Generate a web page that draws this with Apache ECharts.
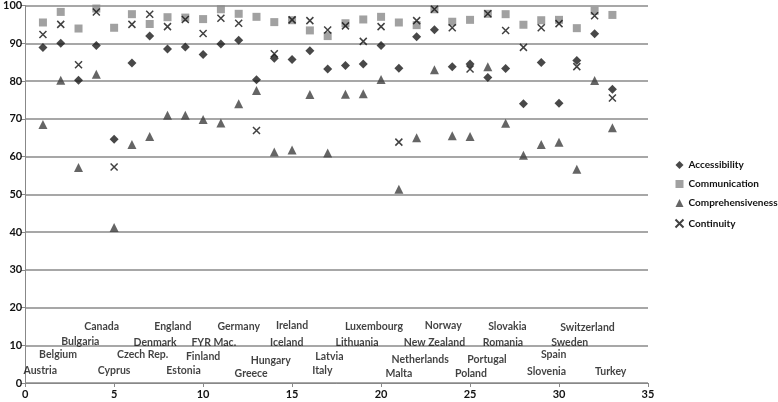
<!DOCTYPE html>
<html><head><meta charset="utf-8">
<script src="https://cdn.jsdelivr.net/npm/echarts@6/dist/echarts.min.js"></script>
<style>html,body{margin:0;padding:0;background:#fff}#c{width:778px;height:402px}</style>
</head><body><div id="c"></div>
<script>
const countries = ["Austria","Belgium","Bulgaria","Canada","Cyprus","Czech Rep.","Denmark","England","Estonia","Finland","FYR Mac.","Germany","Greece","Hungary","Iceland","Ireland","Italy","Latvia","Lithuania","Luxembourg","Malta","Netherlands","New Zealand","Norway","Poland","Portugal","Romania","Slovakia","Slovenia","Spain","Sweden","Switzerland","Turkey"];
const accessibility = [88.9,90.0,80.2,89.4,64.6,84.8,91.9,88.5,89.0,87.0,89.8,90.8,80.3,86.0,85.7,88.0,83.2,84.1,84.5,89.4,83.4,91.7,93.6,83.8,84.5,80.9,83.3,74.0,84.9,74.1,85.4,92.5,77.8];
const communication = [95.5,98.3,93.9,99.2,94.1,97.7,95.1,96.9,96.8,96.4,99.0,97.8,97.0,95.6,96.1,93.4,91.9,95.3,96.3,97.0,95.5,94.8,99.0,95.7,96.2,97.8,97.7,94.9,96.1,96.2,94.0,98.6,97.5];
const comprehensiveness = [68.5,80.2,57.1,81.8,41.2,63.2,65.3,70.9,70.9,69.8,68.9,74.0,77.5,61.2,61.7,76.4,60.9,76.5,76.6,80.4,51.3,65.0,83.0,65.5,65.3,83.8,68.8,60.3,63.2,63.8,56.6,80.1,67.6];
const continuity = [92.3,95.0,84.3,98.3,57.2,95.0,97.7,94.4,96.3,92.6,96.6,95.3,66.9,87.2,96.2,96.0,93.5,94.6,90.5,94.4,63.8,96.0,99.0,94.1,83.2,97.8,93.4,88.9,94.1,95.2,83.8,97.3,75.5];
// country label anchor positions (data units)
const labelX = [0.85,1.85,3.1,4.3,5.0,6.6,7.3,8.3,8.9,10.0,10.6,12.0,12.7,13.8,14.7,15.0,16.7,17.1,18.65,19.6,21.0,22.2,23.0,23.5,25.05,25.95,26.85,27.1,29.3,29.7,30.6,31.6,32.9];
const labelY = [3.4,7.6,11.0,15.0,3.4,7.4,10.8,15.0,3.4,6.9,10.8,15.0,2.6,5.8,10.6,15.3,3.4,6.9,10.8,15.0,2.6,6.3,10.6,15.3,2.6,6.1,10.6,15.0,2.9,7.4,10.8,14.8,2.9];
const xTicks = {min:0, max:35, interval:5};
const yTicks = {min:0, max:100, interval:10};

const xs = countries.map((_, i) => i + 1);
const pairs = arr => arr.map((v, i) => [xs[i], v]);
const FONT = 'Lato';
const FS = 10.5;
const chart = echarts.init(document.getElementById('c'));
chart.setOption({
  animation: false,
  textStyle: {fontFamily: FONT},
  grid: {left: 24, right: 130, top: 4, bottom: 19, containLabel: false},
  xAxis: {type: 'value', min: xTicks.min, max: xTicks.max, interval: xTicks.interval,
    axisLine: {show: true, lineStyle: {color: '#888', width: 1}},
    axisTick: {show: true, length: 4, lineStyle: {color: '#888'}},
    axisLabel: {color: '#111', fontSize: 11, fontWeight: 'bold', fontFamily: FONT, margin: 6},
    splitLine: {show: false}},
  yAxis: {type: 'value', min: yTicks.min, max: yTicks.max, interval: yTicks.interval,
    axisLine: {show: true, lineStyle: {color: '#888', width: 1}},
    axisTick: {show: true, length: 4, lineStyle: {color: '#888'}},
    axisLabel: {color: '#111', fontSize: 11, fontWeight: 'bold', fontFamily: FONT, margin: 3},
    splitLine: {show: true, lineStyle: {color: '#8a8a8a', width: 1.5}}},
  legend: {orient: 'vertical', left: 673, top: 160, padding: 0, itemWidth: 8, itemHeight: 8, itemGap: 9,
    textStyle: {fontSize: 10, fontWeight: 'bold', color: '#111', fontFamily: FONT},
    data: ['Accessibility','Communication','Comprehensiveness','Continuity']},
  series: [
    {name: 'Accessibility', type: 'scatter', symbol: 'diamond', symbolSize: 9, data: pairs(accessibility), itemStyle: {color: '#1a1a1a'}, z: 4},
    {name: 'Communication', type: 'scatter', symbol: 'rect', symbolSize: 8, data: pairs(communication), itemStyle: {color: '#8a8a8a'}, z: 2},
    {name: 'Comprehensiveness', type: 'scatter', symbol: 'triangle', symbolSize: 9, data: pairs(comprehensiveness), itemStyle: {color: '#3f3f3f'}, z: 3},
    {name: 'Continuity', type: 'scatter', symbol: 'path://M0,0L10,10M10,0L0,10', symbolSize: 7, data: pairs(continuity), itemStyle: {color: 'none', borderColor: '#111', borderWidth: 1.5}, z: 5},
    {name: 'labels', type: 'scatter', symbolSize: 0, silent: true, legendHoverLink: false,
      data: countries.map((c, i) => ({name: c, value: [labelX[i], labelY[i]]})),
      label: {show: true, position: 'inside', formatter: p => p.name, color: '#111', fontSize: FS, fontWeight: 'bold', fontFamily: FONT}, z: 6}
  ]
});
</script></body></html>
